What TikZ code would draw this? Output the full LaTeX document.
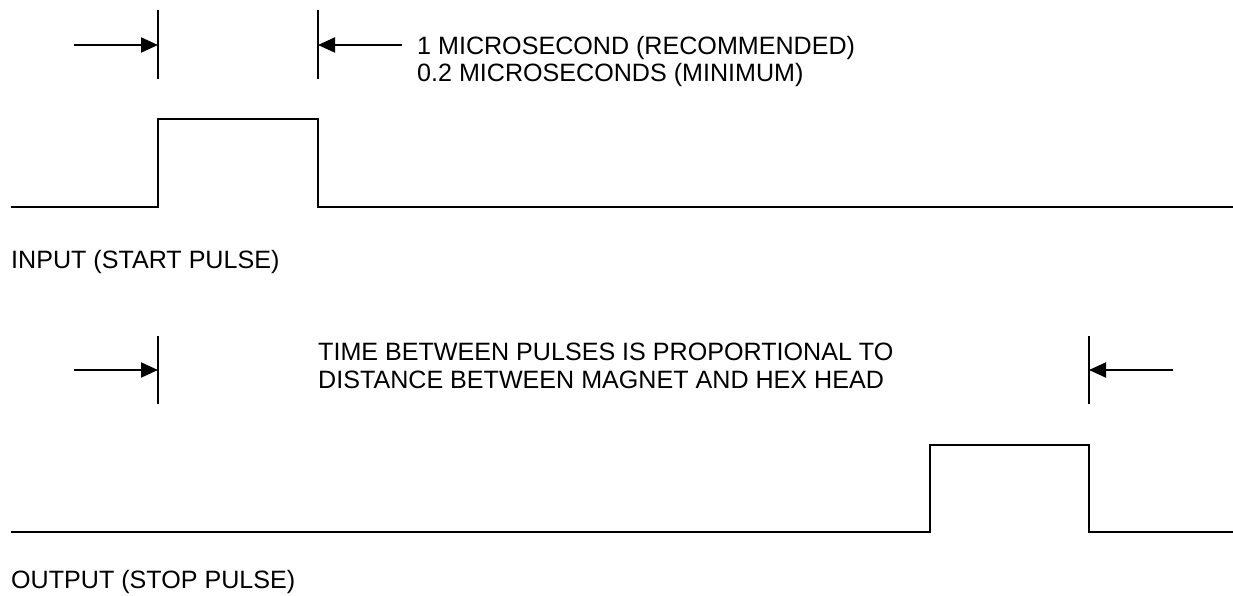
\documentclass[tikz,border=0pt]{standalone}
\usepackage{fontspec}
\setmainfont{Liberation Sans}
\usetikzlibrary{arrows.meta}
\begin{document}
\begin{tikzpicture}[x=1pt,y=-1pt,
  wire/.style={line width=2pt,line join=miter},
  tick/.style={line width=2pt},
  dimarrow/.style={line width=2pt,-{Triangle[length=17pt,width=15pt]}},
  lbl/.style={inner sep=0pt,anchor=base west,align=left,font=\fontsize{25.1}{27.5}\selectfont}]
\useasboundingbox (0,0) rectangle (1233,596);
% top timing
\coordinate (t1a) at (158,10); \coordinate (t1b) at (158,79);
\coordinate (t2a) at (318,10); \coordinate (t2b) at (318,79);
\coordinate (t1m) at (158,45); \coordinate (t2m) at (318,45);
\coordinate (a1s) at (74,45); \coordinate (a2s) at (402,45);
\draw[tick] (t1a) -- (t1b);
\draw[tick] (t2a) -- (t2b);
\draw[dimarrow] (a1s) -- (t1m);
\draw[dimarrow] (a2s) -- (t2m);
\node[lbl] (note1) at (417,82) {1 MICROSECOND (RECOMMENDED)\\0.2 MICROSECONDS (MINIMUM)};
\draw[wire] (11,207) -- (158,207) -- (158,119) -- (318,119) -- (318,207) -- (1233,207);
\node[lbl] (inlbl) at (11,268) {INPUT (START PULSE)};
% bottom timing
\coordinate (t3a) at (158,336); \coordinate (t3b) at (158,404);
\coordinate (t4a) at (1089,336); \coordinate (t4b) at (1089,404);
\coordinate (t3m) at (158,370); \coordinate (t4m) at (1089,370);
\coordinate (a3s) at (74,370); \coordinate (a4s) at (1173,370);
\draw[tick] (t3a) -- (t3b);
\draw[tick] (t4a) -- (t4b);
\draw[dimarrow] (a3s) -- (t3m);
\draw[dimarrow] (a4s) -- (t4m);
\node[lbl] (note2) at (318,388) {TIME BETWEEN PULSES IS PROPORTIONAL TO\\DISTANCE BETWEEN MAGNET AND HEX HEAD};
\draw[wire] (11,532) -- (930,532) -- (930,445) -- (1089,445) -- (1089,532) -- (1233,532);
\node[lbl] (outlbl) at (11,588) {OUTPUT (STOP PULSE)};
\end{tikzpicture}
\end{document}
